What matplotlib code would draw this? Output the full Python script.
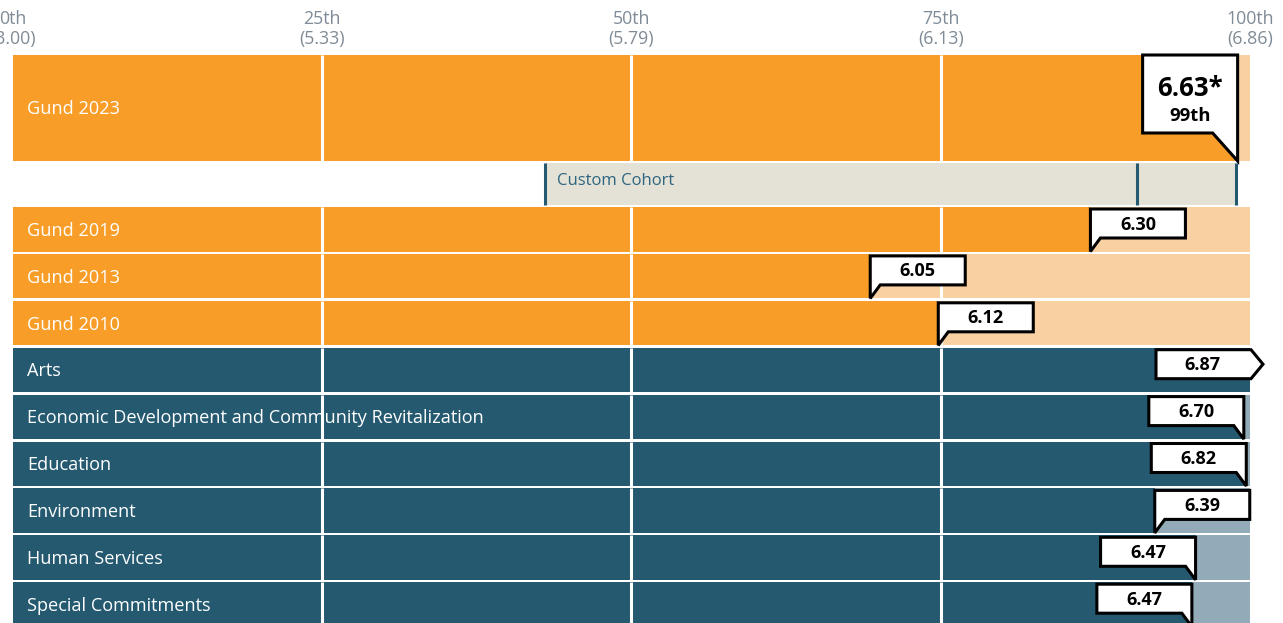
"""Percentile ranking bars with score callouts."""

import matplotlib
matplotlib.use("Agg")
import matplotlib.pyplot as plt
from matplotlib.patches import Polygon, Rectangle

plt.rcParams["font.family"] = ["Open Sans", "DejaVu Sans"]

# data
row_labels = [
    "Gund 2023", "Gund 2019", "Gund 2013", "Gund 2010", "Arts",
    "Economic Development and Community Revitalization", "Education",
    "Environment", "Human Services", "Special Commitments",
]
score_labels = ["6.63*", "6.30", "6.05", "6.12", "6.87", "6.70", "6.82", "6.39", "6.47", "6.47"]
percentiles = [99.0, 87.1, 69.3, 74.8, 100.0, 99.5, 99.7, 92.3, 95.6, 95.3]
is_gund = [True, True, True, True, False, False, False, False, False, False]
tick_pcts = [0, 25, 50, 75, 100]
tick_scores = ["3.00", "5.33", "5.79", "6.13", "6.86"]
cohort_marks = [43.0, 90.9, 98.9]
cohort_label = "Custom Cohort"

ORANGE = "#F89D27"
ORANGE_LIGHT = "#F9D0A1"
TEAL = "#245970"
TEAL_LIGHT = "#93ABB8"
COHORT = "#E4E1D6"
TICK_GRAY = "#7F8B96"

PX = 12.37          # pixels per percentile point
BOX_W = 95 / PX     # callout width in percentile units

fig = plt.figure(figsize=(12.83, 6.23), dpi=100)
ax = fig.add_axes([0, 0, 1, 1])
ax.set_xlim(-13 / PX, (1283 - 13) / PX)
ax.set_ylim(623, 0)
ax.axis("off")

# row geometry in pixels (y down)
rows = [(55, 161)]
for i in range(1, len(row_labels)):
    top = 207 + (i - 1) * 46.9
    rows.append((top, top + 44.5))
cohort_row = (163, 205)

# axis header
for p, s in zip(tick_pcts, tick_scores):
    ax.text(p, 19, f"{p}th", ha="center", va="center", fontsize=12.8, color=TICK_GRAY)
    ax.text(p, 39, f"({s})", ha="center", va="center", fontsize=12.8, color=TICK_GRAY)


def callout(ax, x, top, bottom, text, side):
    bt, bb = top + 2, top + 31
    if side == "right":
        pts = [(x, bt), (x + BOX_W, bt), (x + BOX_W, bb), (x + 10 / PX, bb), (x, bottom)]
        cx = x + BOX_W / 2
    elif side == "left":
        pts = [(x - BOX_W, bt), (x, bt), (x, bottom), (x - 10 / PX, bb), (x - BOX_W, bb)]
        cx = x - BOX_W / 2
    else:  # off the scale, arrow to the right
        pts = [(x - BOX_W + 1 / PX, bt), (x + 1 / PX, bt), (x + 13 / PX, (bt + bb) / 2),
               (x + 1 / PX, bb), (x - BOX_W + 1 / PX, bb)]
        cx = x - BOX_W / 2
    ax.add_patch(Polygon(pts, closed=True, facecolor="white", edgecolor="black",
                         linewidth=2.2, joinstyle="miter", zorder=5))
    ax.text(cx, (bt + bb) / 2 + 1, text, ha="center", va="center", fontsize=13,
            fontweight="bold", color="black", zorder=6)


for i, (label, score, pct, gund) in enumerate(zip(row_labels, score_labels, percentiles, is_gund)):
    top, bottom = rows[i]
    dark, light = (ORANGE, ORANGE_LIGHT) if gund else (TEAL, TEAL_LIGHT)
    ax.add_patch(Rectangle((0, top), 100, bottom - top, facecolor=light, linewidth=0, zorder=1))
    ax.add_patch(Rectangle((0, top), pct, bottom - top, facecolor=dark, linewidth=0, zorder=2))
    ax.vlines(tick_pcts[1:-1], top, bottom, colors="white", linewidth=2.2, zorder=3)
    ax.text(14 / PX, (top + bottom) / 2 + 1.5, label, ha="left", va="center",
            fontsize=13.1, color="white", zorder=4)

    if i == 0:
        # large callout for the current year
        bt, bb = top, top + 78
        x0 = pct - BOX_W
        pts = [(x0, bt), (pct, bt), (pct, bottom), (pct - 25 / PX, bb), (x0, bb)]
        ax.add_patch(Polygon(pts, closed=True, facecolor="white", edgecolor="black",
                             linewidth=2.2, joinstyle="miter", zorder=5))
        ax.text(x0 + BOX_W / 2, bt + 33, score, ha="center", va="center", fontsize=18.5,
                fontweight="bold", color="black", zorder=6)
        ax.text(x0 + BOX_W / 2, bt + 61, f"{round(pct)}th", ha="center", va="center",
                fontsize=13.3, fontweight="bold", color="black", zorder=6)
    elif pct >= 100:
        callout(ax, pct, top, bottom, score, "arrow")
    elif pct + BOX_W <= 100.05:
        callout(ax, pct, top, bottom, score, "right")
    else:
        callout(ax, pct, top, bottom, score, "left")

# custom cohort band
ct, cb = cohort_row
ax.add_patch(Rectangle((cohort_marks[0], ct), cohort_marks[-1] - cohort_marks[0], cb - ct,
                       facecolor=COHORT, linewidth=0, zorder=1))
ax.vlines(cohort_marks, ct, cb, colors=TEAL, linewidth=2.2, zorder=2)
ax.text(cohort_marks[0] + 12 / PX, (ct + cb) / 2 - 3, cohort_label, ha="left", va="center",
        fontsize=12, color="#2E6580", zorder=3)

fig.savefig("out.png", dpi=100)
